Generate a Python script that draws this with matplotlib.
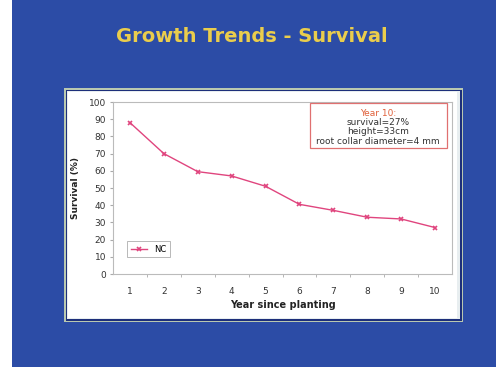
import matplotlib.pyplot as plt
from matplotlib.patches import Rectangle

years = [1, 2, 3, 4, 5, 6, 7, 8, 9, 10]
survival = [88, 70, 59.5, 57, 51, 40.5, 37, 33, 32, 27]
series_name = "NC"
note_title = "Year 10:"
note_lines = ["survival=27%", "height=33cm", "root collar diameter=4 mm"]

W, H = 496, 368
fig = plt.figure(figsize=(W / 100, H / 100), dpi=100)
fig.patch.set_facecolor("white")


def box(x0, y0, x1, y1, z=-5, **kw):
    # pixel coords from top-left
    fig.patches.append(Rectangle((x0 / W, 1 - y1 / H), (x1 - x0) / W, (y1 - y0) / H,
                                 transform=fig.transFigure, figure=fig, zorder=z, **kw))


# slide background and chart frame
box(12, 0, 496, 367, facecolor="#2c4ca6", edgecolor="none")
box(64, 88, 463, 322, facecolor="#b9c8b0", edgecolor="none")
box(65.5, 89.5, 461.5, 320.5, facecolor="#1d2f7a", edgecolor="none")
box(67, 91, 460, 319, facecolor="#e8eef0", edgecolor="none")
box(68, 92, 457, 318, facecolor="white", edgecolor="none")

fig.text(252 / W, 1 - 37 / H, "Growth Trends - Survival", color="#eacd4c",
         fontsize=14, fontweight="bold", ha="center", va="center")

ax = fig.add_axes([113 / W, 1 - 274 / H, (452 - 113) / W, (274 - 102) / H])
ax.set_facecolor("white")
line_color = "#e0457e"
ax.plot(years, survival, color=line_color, lw=1.0, marker="x", ms=3.5, mew=1.2,
        label=series_name)
ax.set_xlim(0.5, 10.5)
ax.set_ylim(0, 100)
ax.set_yticks(range(0, 101, 10))
ax.set_xticks(years)
ax.set_xticks([y + 0.5 for y in years[:-1]], minor=True)
ax.tick_params(axis="x", which="major", length=0, pad=9, labelsize=6.5, labelcolor="#333333")
ax.tick_params(axis="x", which="minor", length=2, color="#aaaaaa")
ax.tick_params(axis="y", length=2, color="#aaaaaa", pad=3, labelsize=6.5, labelcolor="#333333")
for s in ax.spines.values():
    s.set_color("#bbbbbb")
    s.set_linewidth(0.8)
ax.set_xlabel("Year since planting", fontsize=7, fontweight="bold", color="#222222", labelpad=3)
ax.set_ylabel("Survival (%)", fontsize=6.5, fontweight="bold", color="#222222", labelpad=6)

leg = ax.legend(loc="lower left", bbox_to_anchor=(0.03, 0.075), fontsize=6,
                frameon=True, fancybox=False, handlelength=2.0, borderpad=0.4)
leg.get_frame().set_edgecolor("#999999")
leg.get_frame().set_linewidth(0.6)

# note box
box(310, 103, 447, 148, z=5, facecolor="none", edgecolor="#e07070", lw=0.9)
fig.text(378 / W, 1 - 113 / H, note_title, color="#e0603a", fontsize=6.5,
         ha="center", va="center")
for i, t in enumerate(note_lines):
    fig.text(378 / W, 1 - (122.5 + 9.5 * i) / H, t, color="#333333", fontsize=6.5,
             ha="center", va="center")

fig.savefig("out.png", dpi=100)
